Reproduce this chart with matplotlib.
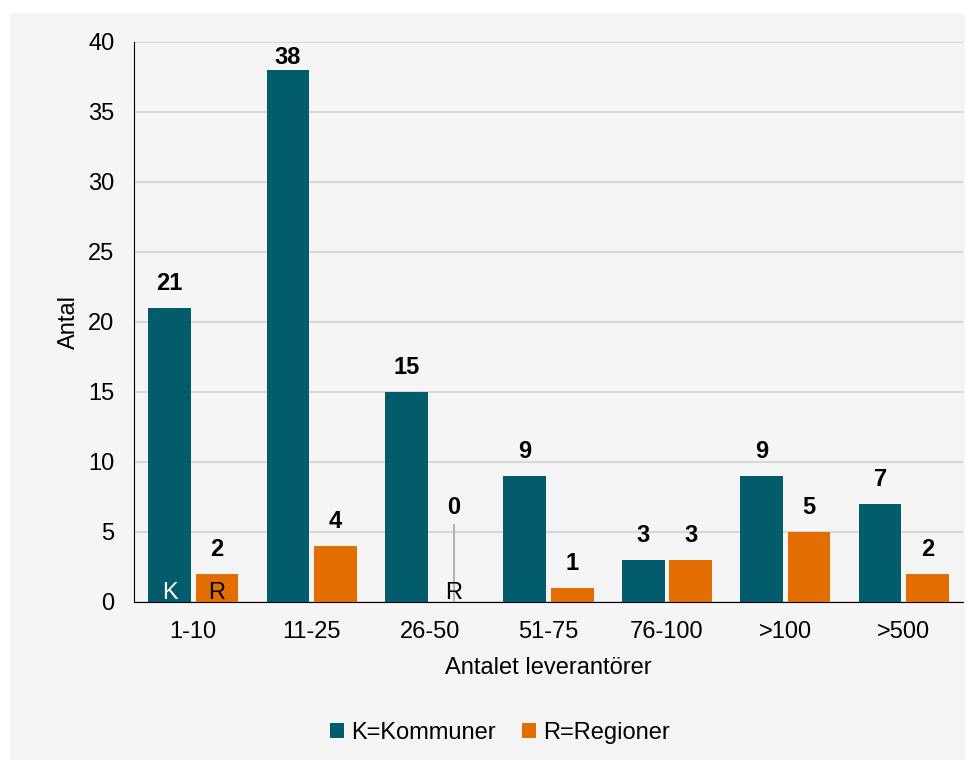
import matplotlib
matplotlib.use("Agg")
import matplotlib.pyplot as plt
from matplotlib.patches import Rectangle, Patch
import numpy as np

plt.rcParams['font.family'] = ['Liberation Sans', 'DejaVu Sans']

categories = ["1-10", "11-25", "26-50", "51-75", "76-100", ">100", ">500"]
kommuner = [21, 38, 15, 9, 3, 9, 7]
regioner = [2, 4, 0, 1, 3, 5, 2]
yticks = [0, 5, 10, 15, 20, 25, 30, 35, 40]

teal = "#025c6b"
orange = "#e26d00"
panel = "#f5f5f5"
fs = 17
ymax = 40

fig = plt.figure(figsize=(9.68, 7.6), dpi=100, facecolor="white")
fig.patches.append(Rectangle((10 / 968, 0), 955 / 968, 1 - 13 / 760,
                             transform=fig.transFigure, facecolor=panel,
                             edgecolor="none", zorder=-10))
ax = fig.add_axes([134 / 968, 1 - 602 / 760, 829 / 968, 560 / 760])
ax.set_facecolor(panel)

x = np.arange(len(categories))
w = 0.36
off = 0.2
ax.bar(x - off, kommuner, w, color=teal, zorder=3)
ax.bar(x + off, regioner, w, color=orange, zorder=3)


def value_label(xi, v, base):
    # labels near the top of the plot sit closer to their bar
    pad = 0.5 if v > ymax - 4 else 9
    ax.annotate(str(v), (xi, base), xytext=(0, pad), textcoords="offset points",
                ha="center", va="bottom", fontsize=fs, fontweight="bold",
                annotation_clip=False)


for xi, v in zip(x - off, kommuner):
    value_label(xi, v, v)
for xi, v in zip(x + off, regioner):
    if v == 0:
        ax.plot([xi, xi], [0, 5.5], color="#a6a6a6", lw=1.2, zorder=3)
        ax.annotate(str(v), (xi, 5.5), xytext=(0, 4), textcoords="offset points",
                    ha="center", va="bottom", fontsize=fs, fontweight="bold")
        ax.text(xi, 0.2, "R", ha="center", va="baseline", fontsize=fs, color="black", zorder=4)
    else:
        value_label(xi, v, v)

# series initials inside the first group's bars
ax.text(x[0] - off, 0.2, "K", ha="center", va="baseline", fontsize=fs, color="white", zorder=4)
ax.text(x[0] + off, 0.2, "R", ha="center", va="baseline", fontsize=fs, color="black", zorder=4)

ax.set_xlim(-0.5, len(categories) - 0.5)
ax.set_ylim(0, ymax)
ax.set_yticks(yticks)
ax.set_xticks(x)
ax.set_xticklabels(categories)
ax.tick_params(axis="y", length=0, labelsize=fs, pad=14)
ax.tick_params(axis="x", length=0, labelsize=fs, pad=14)
ax.yaxis.grid(True, color="#d9d9d9", lw=1.5, zorder=0)
ax.set_axisbelow(True)
for s in ["top", "right"]:
    ax.spines[s].set_visible(False)
ax.spines["left"].set_color("black")
ax.spines["bottom"].set_color("black")

ax.set_ylabel("Antal", fontsize=fs, labelpad=6)
ax.set_xlabel("Antalet leverantörer", fontsize=fs, labelpad=10)

handles = [Patch(facecolor=teal, label="K=Kommuner"),
           Patch(facecolor=orange, label="R=Regioner")]
fig.legend(handles=handles, loc="center", bbox_to_anchor=(500 / 968, 1 - 733 / 760),
           ncol=2, frameon=False, fontsize=fs, handlelength=0.6, handleheight=0.6,
           handletextpad=0.3, columnspacing=1.1)

fig.savefig("out.png", dpi=100, facecolor="white")
